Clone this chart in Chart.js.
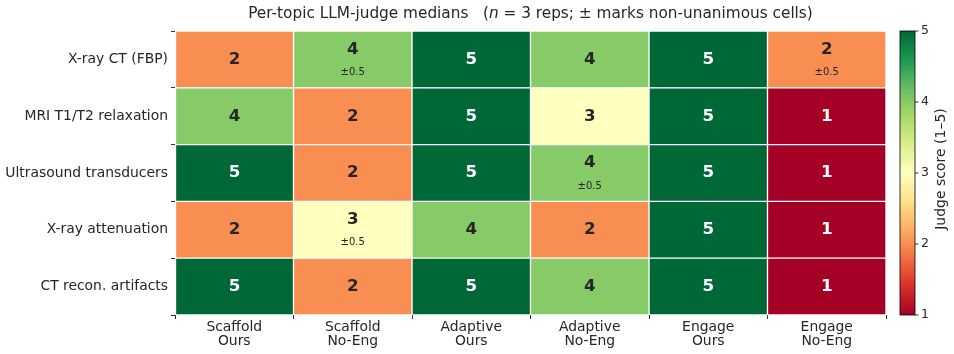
<!DOCTYPE html>
<html>
<head>
<meta charset="utf-8">
<script src="https://cdn.jsdelivr.net/npm/chart.js@4.4.1/dist/chart.umd.min.js"></script>
<style>
  html, body { margin: 0; padding: 0; background: #fff; }
  #wrap { width: 954px; height: 354px; }
</style>
</head>
<body>
<div id="wrap"><canvas id="heat" width="954" height="354"></canvas></div>
<script>
// Данные теплокарты
const rowLabels = ['X-ray CT (FBP)', 'MRI T1/T2 relaxation', 'Ultrasound transducers', 'X-ray attenuation', 'CT recon. artifacts'];
const colLabels = [['Scaffold', 'Ours'], ['Scaffold', 'No-Eng'], ['Adaptive', 'Ours'], ['Adaptive', 'No-Eng'], ['Engage', 'Ours'], ['Engage', 'No-Eng']];
const scores = [
    [2, 4, 5, 4, 5, 2],
    [4, 2, 5, 3, 5, 1],
    [5, 2, 5, 4, 5, 1],
    [2, 3, 4, 2, 5, 1],
    [5, 2, 5, 4, 5, 1]
];
// разброс (0 = единогласно)
const spreads = [
    [0, 0.5, 0, 0, 0, 0.5],
    [0, 0, 0, 0, 0, 0],
    [0, 0, 0, 0.5, 0, 0],
    [0, 0.5, 0, 0, 0, 0],
    [0, 0, 0, 0, 0, 0]
];
const cbarTicks = [1, 2, 3, 4, 5];
const vmin = 1, vmax = 5;

// Палитра RdYlGn
const rdylgn = ['#a50026', '#d73027', '#f46d43', '#fdae61', '#fee08b', '#ffffbf', '#d9ef8b', '#a6d96a', '#66bd63', '#1a9850', '#006837'];

function hexToRgb(h) {
    return [parseInt(h.slice(1, 3), 16), parseInt(h.slice(3, 5), 16), parseInt(h.slice(5, 7), 16)];
}

function scoreColor(v) {
    const t = Math.min(1, Math.max(0, (v - vmin) / (vmax - vmin))) * (rdylgn.length - 1);
    const i = Math.min(rdylgn.length - 2, Math.floor(t));
    const f = t - i;
    const a = hexToRgb(rdylgn[i]), b = hexToRgb(rdylgn[i + 1]);
    const c = a.map((x, k) => Math.round(x + (b[k] - x) * f));
    return `rgb(${c[0]},${c[1]},${c[2]})`;
}

const FONT = 'DejaVu Sans';
const TXT = '#262626';

// Один набор данных на столбец, плавающие бары [c, c+1]
const datasets = colLabels.map((lab, c) => ({
    label: lab.join(' '),
    data: rowLabels.map(() => [c, c + 1]),
    backgroundColor: rowLabels.map((r, i) => scoreColor(scores[i][c])),
    borderColor: '#ffffff',
    borderWidth: 1,
    borderSkipped: false,
    grouped: false,
    barPercentage: 1,
    categoryPercentage: 1
}));

// Подписи в ячейках
const cellText = {
    id: 'cellText',
    afterDatasetsDraw(chart) {
        const ctx = chart.ctx;
        ctx.save();
        ctx.textAlign = 'center';
        ctx.textBaseline = 'middle';
        chart.data.datasets.forEach((ds, c) => {
            chart.getDatasetMeta(c).data.forEach((el, r) => {
                const v = scores[r][c];
                const cx = (el.x + el.base) / 2;
                const cy = el.y;
                const col = (v >= 4.5 || v <= 1.5) ? '#ffffff' : TXT;
                ctx.fillStyle = col;
                ctx.font = `bold 16.7px "${FONT}"`;
                if (spreads[r][c] > 0) {
                    ctx.fillText(String(v), cx, cy - 10);
                    ctx.font = `10px "${FONT}"`;
                    ctx.fillText('±' + spreads[r][c], cx, cy + 13);
                } else {
                    ctx.fillText(String(v), cx, cy);
                }
            });
        });
        ctx.restore();
    }
};

// Заголовок и шкала цвета
const decor = {
    id: 'decor',
    afterDraw(chart) {
        const ctx = chart.ctx;
        const area = chart.chartArea;
        ctx.save();

        // заголовок с курсивной n
        const p1 = 'Per-topic LLM-judge medians   (';
        const p2 = 'n';
        const p3 = ' = 3 reps; ± marks non-unanimous cells)';
        const fs = 15.3;
        ctx.font = `${fs}px "${FONT}"`;
        const w1 = ctx.measureText(p1).width, w3 = ctx.measureText(p3).width;
        ctx.font = `italic ${fs}px "${FONT}"`;
        const w2 = ctx.measureText(p2).width;
        let x = (area.left + area.right) / 2 - (w1 + w2 + w3) / 2;
        const ty = 14;
        ctx.fillStyle = TXT;
        ctx.textBaseline = 'middle';
        ctx.textAlign = 'left';
        ctx.font = `${fs}px "${FONT}"`;
        ctx.fillText(p1, x, ty);
        x += w1;
        ctx.font = `italic ${fs}px "${FONT}"`;
        ctx.fillText(p2, x, ty);
        x += w2;
        ctx.font = `${fs}px "${FONT}"`;
        ctx.fillText(p3, x, ty);

        // цветовая шкала
        const bx = area.right + 14, bw = 15;
        const top = area.top, bot = area.bottom;
        const grad = ctx.createLinearGradient(0, bot, 0, top);
        rdylgn.forEach((c, i) => grad.addColorStop(i / (rdylgn.length - 1), c));
        ctx.fillStyle = grad;
        ctx.fillRect(bx, top, bw, bot - top);
        ctx.strokeStyle = '#000';
        ctx.lineWidth = 0.8;
        ctx.strokeRect(bx, top, bw, bot - top);

        ctx.font = `12.5px "${FONT}"`;
        ctx.fillStyle = TXT;
        ctx.textAlign = 'left';
        cbarTicks.forEach(t => {
            const y = bot - (t - vmin) / (vmax - vmin) * (bot - top);
            ctx.beginPath();
            ctx.moveTo(bx + bw, y);
            ctx.lineTo(bx + bw + 3.5, y);
            ctx.stroke();
            ctx.fillText(String(t), bx + bw + 6, y);
        });

        ctx.translate(bx + bw + 26, (top + bot) / 2 - 4);
        ctx.rotate(-Math.PI / 2);
        ctx.textAlign = 'center';
        ctx.font = `14px "${FONT}"`;
        ctx.fillText('Judge score (1–5)', 0, 0);
        ctx.restore();
    }
};

new Chart(document.getElementById('heat').getContext('2d'), {
    type: 'bar',
    data: { labels: rowLabels, datasets: datasets },
    options: {
        indexAxis: 'y',
        responsive: false,
        animation: false,
        layout: { padding: { top: 31, right: 68, left: 0, bottom: 0 } },
        plugins: {
            legend: { display: false },
            tooltip: { enabled: false },
            title: { display: false }
        },
        scales: {
            x: {
                type: 'linear',
                min: 0,
                max: colLabels.length,
                border: { display: false },
                afterBuildTicks(scale) {
                    const t = [];
                    for (let v = 0; v <= colLabels.length; v += 0.5) t.push({ value: v });
                    scale.ticks = t;
                },
                afterFit(scale) { scale.height = 39; },
                ticks: {
                    autoSkip: false,
                    maxRotation: 0,
                    padding: 1,
                    color: TXT,
                    font: { family: FONT, size: 13.9, lineHeight: 1.02 },
                    callback: v => Number.isInteger(v) ? '' : colLabels[Math.floor(v)]
                },
                grid: {
                    drawOnChartArea: false,
                    tickLength: 4,
                    tickColor: c => Number.isInteger(c.tick.value) ? '#333' : 'rgba(0,0,0,0)'
                }
            },
            y: {
                type: 'category',
                offset: true,
                border: { display: false },
                afterFit(scale) { scale.width = 175; },
                ticks: {
                    padding: 3,
                    color: TXT,
                    font: { family: FONT, size: 13.9 }
                },
                grid: {
                    offset: true,
                    drawOnChartArea: false,
                    tickLength: 4,
                    tickColor: '#333'
                }
            }
        }
    },
    plugins: [cellText, decor]
});
</script>
</body>
</html>
